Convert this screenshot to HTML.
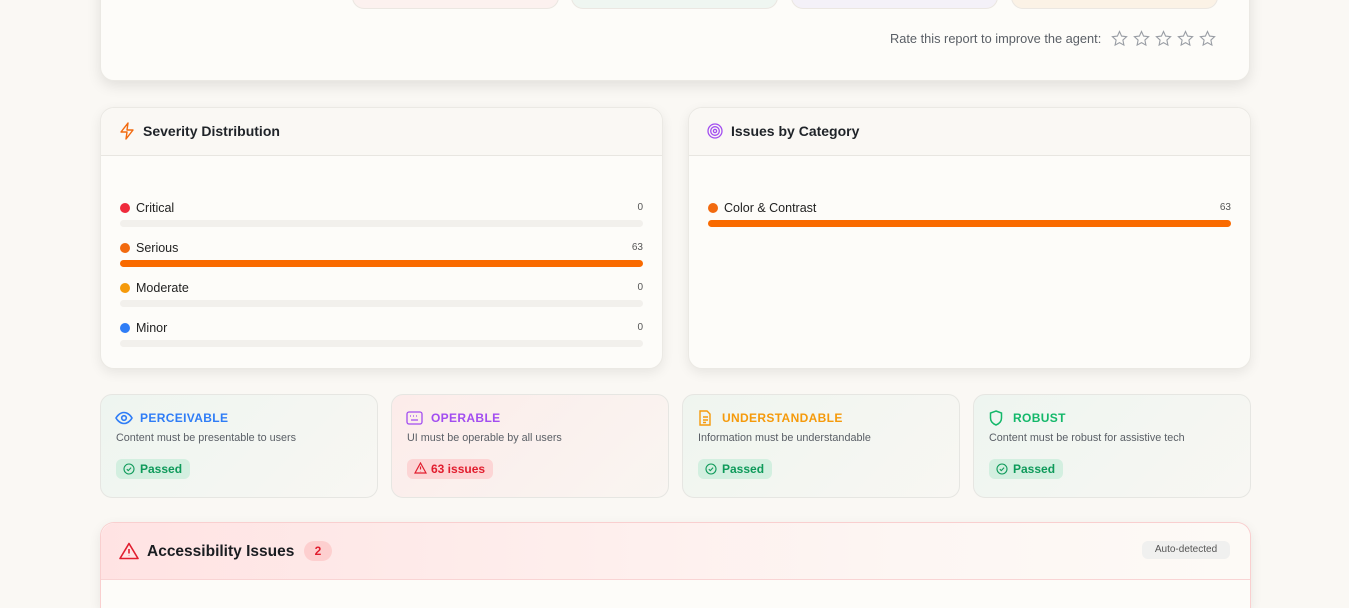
<!DOCTYPE html>
<html style="width:1349px;height:608px;overflow:hidden"><head><meta charset="utf-8"><style>
*{box-sizing:border-box;margin:0;padding:0}
body{width:1349px;height:608px;overflow:hidden;background:#faf8f4;font-family:"Liberation Sans",sans-serif;position:relative;color:#1f2328}
.abs{position:absolute}
.card{position:absolute;background:#fdfcf9;border:1px solid #ebe9e4;border-radius:14px;box-shadow:0 4px 12px rgba(0,0,0,.08)}
.hdr{position:absolute;left:0;right:0;top:0;height:48px;border-bottom:1px solid #e8e6e1;border-radius:14px 14px 0 0;background:#faf8f4}
.ht{position:absolute;left:42px;top:15px;font-size:14px;font-weight:bold;color:#1f2328}
.row{position:absolute;left:19px;right:19px;height:30px}
.row .dot{position:absolute;left:0;top:1px;width:10px;height:10px;border-radius:50%}
.row .lb{position:absolute;left:16px;top:-1px;font-size:12.5px;color:#222}
.row .v{position:absolute;right:0;top:0px;font-size:10px;color:#555}
.row .tr{position:absolute;left:0;right:0;top:18px;height:7px;border-radius:4px;background:#f2f0ec}
.w{position:absolute;top:394px;width:278px;height:104px;border:1px solid #e6e6e2;border-radius:12px}
.w .t{position:absolute;left:39px;top:16px;font-size:12px;font-weight:bold;letter-spacing:.35px}
.w .d{position:absolute;left:15px;top:37px;font-size:10.8px;color:#5a5f66}
.w .b{position:absolute;left:15px;top:64px;height:20px;border-radius:6px;font-size:12px;font-weight:bold;padding:3px 8px 0 24px}
.w svg{position:absolute}
.tc{position:absolute;top:-20px;width:207px;height:29px;border:1px solid #ebe7e2;border-radius:12px}
</style></head><body>
<div class="card" style="left:100px;top:-30px;width:1150px;height:111px;box-shadow:0 5px 14px rgba(0,0,0,.1)"></div>
<div class="tc" style="left:352px;background:#fcf1ef"></div>
<div class="tc" style="left:571px;background:#eff6f1"></div>
<div class="tc" style="left:791px;background:#f4f1f8"></div>
<div class="tc" style="left:1011px;background:#fbf2e6"></div>
<div class="abs" style="left:890px;top:31px;font-size:12.8px;color:#5a5f66">Rate this report to improve the agent:</div>
<svg class="abs" style="left:1111px;top:30px" width="110" height="18" viewBox="0 0 110 18" fill="none" stroke="#9a9ea5" stroke-width="1.1">
<path d="M8.5 1.5l2.1 4.6 5 .6-3.7 3.4 1 5-4.4-2.5-4.4 2.5 1-5L1.4 6.7l5-.6z"/>
<path transform="translate(22 0)" d="M8.5 1.5l2.1 4.6 5 .6-3.7 3.4 1 5-4.4-2.5-4.4 2.5 1-5L1.4 6.7l5-.6z"/>
<path transform="translate(44 0)" d="M8.5 1.5l2.1 4.6 5 .6-3.7 3.4 1 5-4.4-2.5-4.4 2.5 1-5L1.4 6.7l5-.6z"/>
<path transform="translate(66 0)" d="M8.5 1.5l2.1 4.6 5 .6-3.7 3.4 1 5-4.4-2.5-4.4 2.5 1-5L1.4 6.7l5-.6z"/>
<path transform="translate(88 0)" d="M8.5 1.5l2.1 4.6 5 .6-3.7 3.4 1 5-4.4-2.5-4.4 2.5 1-5L1.4 6.7l5-.6z"/>
</svg>

<div class="card" style="left:100px;top:107px;width:563px;height:262px">
<div class="hdr"></div>
<svg class="abs" style="left:18px;top:14px" width="16" height="18" viewBox="0 0 16 18" fill="none" stroke="#f26a0f" stroke-width="1.4" stroke-linejoin="round"><path d="M9 1L2 10h6l-1 7 7-9H8z"/></svg>
<div class="ht">Severity Distribution</div>
<div class="row" style="top:94px"><div class="dot" style="background:#ef2b3c"></div><div class="lb">Critical</div><div class="v">0</div><div class="tr"></div></div>
<div class="row" style="top:134px"><div class="dot" style="background:#f26a0f"></div><div class="lb">Serious</div><div class="v">63</div><div class="tr" style="background:#f96a00"></div></div>
<div class="row" style="top:174px"><div class="dot" style="background:#f59a0b"></div><div class="lb">Moderate</div><div class="v">0</div><div class="tr"></div></div>
<div class="row" style="top:214px"><div class="dot" style="background:#2f7df6"></div><div class="lb">Minor</div><div class="v">0</div><div class="tr"></div></div>
</div>

<div class="card" style="left:688px;top:107px;width:563px;height:262px">
<div class="hdr"></div>
<svg class="abs" style="left:18px;top:14px" width="18" height="18" viewBox="0 0 18 18" fill="none" stroke="#a24df0" stroke-width="1.3"><circle cx="8" cy="9" r="7"/><circle cx="8" cy="9" r="4.3"/><circle cx="8" cy="9" r="1.6"/></svg>
<div class="ht">Issues by Category</div>
<div class="row" style="top:94px"><div class="dot" style="background:#f26a0f"></div><div class="lb">Color &amp; Contrast</div><div class="v">63</div><div class="tr" style="background:#f96a00"></div></div>
</div>

<div class="w" style="left:100px;background:linear-gradient(135deg,#eef5f0,#f8f7f3)">
<svg style="left:14px;top:16px" width="18" height="14" viewBox="0 0 18 14" fill="none" stroke="#2f7df6" stroke-width="1.6"><path d="M1 7s3-5.5 8-5.5S17 7 17 7s-3 5.5-8 5.5S1 7 1 7z"/><circle cx="9" cy="7" r="2.3"/></svg>
<div class="t" style="color:#2f7df6">PERCEIVABLE</div><div class="d">Content must be presentable to users</div>
<div class="b" style="background:#d3efe0;color:#0e9a5a">Passed</div>
<svg style="left:22px;top:68px" width="12" height="12" viewBox="0 0 12 12" fill="none" stroke="#0e9a5a" stroke-width="1.1"><circle cx="6" cy="6" r="5"/><path d="M3.8 6.2l1.5 1.4 2.8-3"/></svg>
</div>
<div class="w" style="left:391px;background:linear-gradient(135deg,#fcecea,#f9f5f1)">
<svg style="left:14px;top:16px" width="17" height="14" viewBox="0 0 17 14" fill="none" stroke="#a24df0" stroke-width="1.3"><rect x="1" y="1" width="15" height="12" rx="2"/><path d="M4 5h1M7 5h1M10 5h1M13 5h0M5 9h7"/></svg>
<div class="t" style="color:#a24df0">OPERABLE</div><div class="d">UI must be operable by all users</div>
<div class="b" style="background:#fcd5d5;color:#e11d2e">63 issues</div>
<svg style="left:22px;top:67px" width="13" height="12" viewBox="0 0 13 12" fill="none" stroke="#e11d2e" stroke-width="1.2"><path d="M6.5 1L12 11H1z"/><path d="M6.5 4.5v3M6.5 9v.3"/></svg>
</div>
<div class="w" style="left:682px;background:linear-gradient(135deg,#eff5ef,#f8f7f3)">
<svg style="left:15px;top:15px" width="14" height="16" viewBox="0 0 14 16" fill="none" stroke="#f59a0b" stroke-width="1.4"><path d="M2 1h7l3 3v11H2z"/><path d="M5 7h5M5 10h5M5 12.5h3"/></svg>
<div class="t" style="color:#f59a0b">UNDERSTANDABLE</div><div class="d">Information must be understandable</div>
<div class="b" style="background:#d3efe0;color:#0e9a5a">Passed</div>
<svg style="left:22px;top:68px" width="12" height="12" viewBox="0 0 12 12" fill="none" stroke="#0e9a5a" stroke-width="1.1"><circle cx="6" cy="6" r="5"/><path d="M3.8 6.2l1.5 1.4 2.8-3"/></svg>
</div>
<div class="w" style="left:973px;background:linear-gradient(135deg,#eef5f0,#f8f7f3)">
<svg style="left:15px;top:15px" width="14" height="16" viewBox="0 0 14 16" fill="none" stroke="#14b86a" stroke-width="1.5"><path d="M7 1l5.5 2v5c0 3.5-2.5 5.8-5.5 7C4 13.8 1.5 11.5 1.5 8V3z"/></svg>
<div class="t" style="color:#14b86a">ROBUST</div><div class="d">Content must be robust for assistive tech</div>
<div class="b" style="background:#d3efe0;color:#0e9a5a">Passed</div>
<svg style="left:22px;top:68px" width="12" height="12" viewBox="0 0 12 12" fill="none" stroke="#0e9a5a" stroke-width="1.1"><circle cx="6" cy="6" r="5"/><path d="M3.8 6.2l1.5 1.4 2.8-3"/></svg>
</div>

<div class="card" style="left:100px;top:522px;width:1151px;height:86px;border-color:#f9cfcf;border-bottom:none;border-radius:14px 14px 0 0">
<div style="position:absolute;left:0;right:0;top:0;height:57px;border-bottom:1px solid #f9d4d4;border-radius:14px 14px 0 0;background:linear-gradient(90deg,#ffe3e3,#fdf6f3 70%,#fdfaf6)"></div>
<svg class="abs" style="left:18px;top:19px" width="20" height="18" viewBox="0 0 20 18" fill="none" stroke="#e11d2e" stroke-width="1.6" stroke-linejoin="round"><path d="M10 1.5L19 16.5H1z"/><path d="M10 7v4.5M10 13.5v.3"/></svg>
<div class="abs" style="left:46px;top:20px;font-size:15.5px;font-weight:bold;color:#1a1d21">Accessibility Issues</div>
<div class="abs" style="left:203px;top:18px;width:28px;height:20px;border-radius:10px;background:#fdcfcf;color:#e11d2e;font-size:12px;font-weight:bold;text-align:center;line-height:20px">2</div>
<div class="abs" style="left:1041px;top:18px;width:88px;height:18px;border-radius:6px;background:#f0f0ef;color:#555;font-size:10px;text-align:center;line-height:18px">Auto-detected</div>
</div>
</body></html>
